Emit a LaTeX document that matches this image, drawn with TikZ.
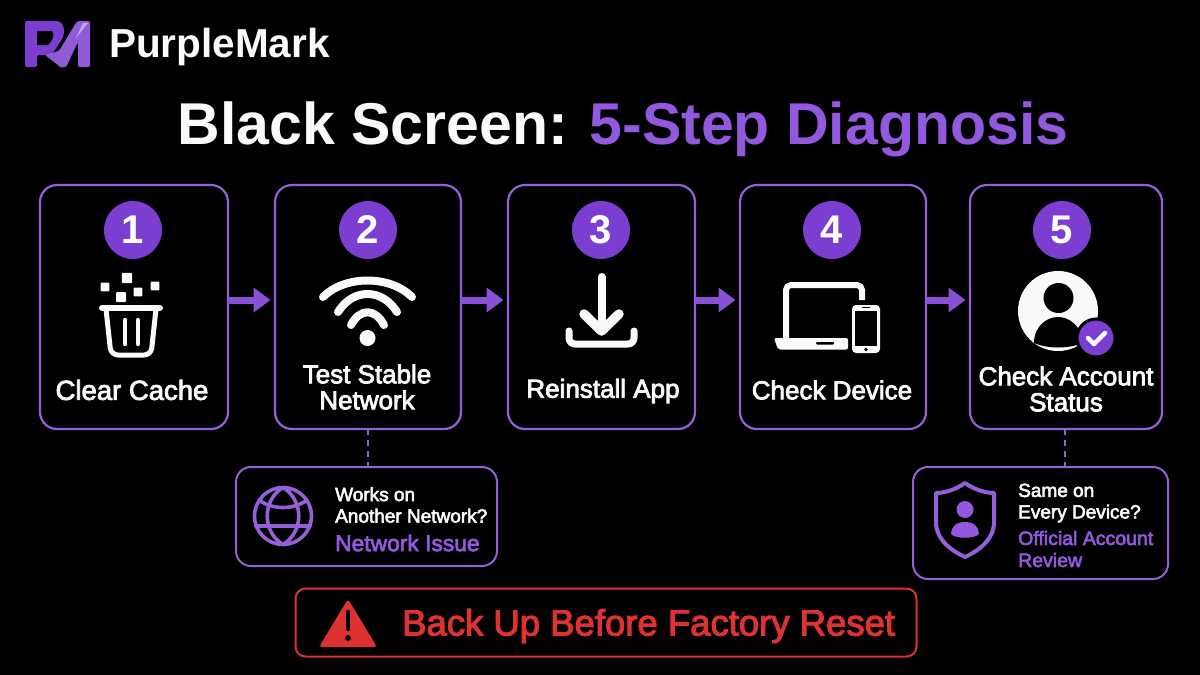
\documentclass[tikz,border=0pt]{standalone}
\usepackage{fontspec}
\setmainfont{Liberation Sans}
\newfontfamily\semifont[FakeBold=3]{Liberation Sans}
\usetikzlibrary{
    arrows.meta,
    positioning,
    calc
}
\definecolor{markpurple}{RGB}{124,62,208}
\definecolor{markline}{RGB}{148,96,216}
\definecolor{marktext}{RGB}{146,88,222}
\definecolor{markred}{RGB}{222,50,50}
\definecolor{markwhite}{RGB}{250,250,250}

\begin{document}
\begin{tikzpicture}[
    x=1pt,
    y=-1pt,
    stepbox/.style={
        draw=markline,
        line width=2.2pt,
        outer sep=0pt,
        rounded corners=17pt,
        minimum height=244pt,
        minimum width=187pt
    },
    checkbox/.style={
        draw=markline,
        line width=2pt,
        outer sep=0pt,
        rounded corners=15pt
    },
    badge/.style={
        circle,
        fill=markpurple,
        text=white,
        minimum size=58pt,
        inner sep=0pt,
        font=\fontsize{40}{40}\selectfont\bfseries
    },
    steplabel/.style={
        text=markwhite,
        align=center,
        inner sep=0pt,
        font=\fontsize{26}{26}\selectfont\semifont
    },
    asktext/.style={
        text=markwhite,
        align=left,
        anchor=west,
        inner sep=0pt,
        font=\fontsize{19}{21.5}\selectfont\semifont
    },
    answertext/.style={
        text=marktext,
        align=left,
        anchor=west,
        inner sep=0pt,
        font=\fontsize{22.8}{22}\selectfont\semifont
    },
    flowarrow/.style={
        -{Triangle[length=17pt,width=24pt]},
        line width=7pt,
        draw=markpurple!90!white,
        shorten >=4.5pt
    },
    dashline/.style={
        draw=markline,
        line width=2pt,
        dash pattern=on 6pt off 5pt
    },
    iconline/.style={
        draw=markwhite,
        line width=8pt,
        line cap=round,
        line join=round
    },
    sideline/.style={
        draw=markline,
        line width=3.6pt,
        line cap=round,
        line join=round
    }
]

\fill[black] (0,0) rectangle (1200,675);
\useasboundingbox (0,0) rectangle (1200,675);

% logo
\fill[markpurple, rounded corners=2pt] (25,21) -- (54,21) .. controls (65,21) and (66,34) .. (60,42) -- (55,50) .. controls (52,54) and (48,55) .. (44,55) -- (37,55) -- (37,67) -- (25,67) -- cycle;
\fill[black] (37,31) -- (52,31) .. controls (55,33) and (53,41) .. (48,45) -- (37,45) -- cycle;
\fill[markpurple!85!white, rounded corners=2pt] (45,55) -- (59,51) -- (77,21) -- (90,21) -- (90,67) -- (78,67) -- (78,42) -- (68,63) .. controls (66,68) and (61,68) .. (58,65) -- cycle;
\fill[markpurple!45!white] (83,23) -- (88,23) -- (76,38) -- cycle;
\node[anchor=west, inner sep=0pt, text=markwhite, font=\fontsize{40.5}{40}\selectfont\bfseries] (brand) at (109,47) {PurpleMark};

\node[inner sep=0pt, font=\fontsize{59}{60}\selectfont\bfseries] (title) at (623,129) {\textcolor{markwhite}{Black Screen:} \textcolor{marktext}{5-Step Diagnosis}};

\node[stepbox, minimum width=188pt] (cache) at (134,307) {};
\node[stepbox, minimum width=186pt, right=47pt of cache] (network) {};
\node[stepbox, right=47pt of network] (reinstall) {};
\node[stepbox, minimum width=186pt, right=45pt of reinstall] (device) {};
\node[stepbox, minimum width=192pt, right=44pt of device] (account) {};

\node[badge] (num1) at (133,230) {1};
\node[badge] (num2) at (368,230) {2};
\node[badge] (num3) at (601,230) {3};
\node[badge] (num4) at (832,230) {4};
\node[badge] (num5) at (1062,230) {5};

\node[steplabel, font=\fontsize{27.5}{26}\selectfont\semifont] (label1) at (132,390) {Clear Cache};
\node[steplabel] (label2) at (367,387) {Test Stable\\Network};
\node[steplabel] (label3) at (603,391) {Reinstall App};
\node[steplabel] (label4) at (832,390) {Check Device};
\node[steplabel] (label5) at (1066,389) {Check Account\\Status};

\draw[flowarrow] ([yshift=7pt]cache.east) -- ([yshift=7pt]network.west);
\draw[flowarrow] ([yshift=7pt]network.east) -- ([yshift=7pt]reinstall.west);
\draw[flowarrow] ([yshift=7pt]reinstall.east) -- ([yshift=7pt]device.west);
\draw[flowarrow] ([yshift=7pt]device.east) -- ([yshift=7pt]account.west);

% trash
\foreach \a/\b/\s in {127/278/5.2, 105/287/4.4, 155/286/4.4, 138/292/4.4, 121/297/5}
    \fill[markwhite, rounded corners=1pt] (\a-\s,\b-\s) rectangle (\a+\s,\b+\s);
\draw[markwhite, line width=6pt, line cap=round] (102,308) -- (160,308);
\draw[markwhite, line width=5pt, line join=round, rounded corners=7pt] (106,309) -- (111,355) -- (151,355) -- (156,309);
\draw[markwhite, line width=4.4pt, line cap=round] (125,320) -- (125,344) (138,320) -- (138,344);

% wifi
\draw[iconline] (323,297) .. controls (345,275) and (390,275) .. (412,297);
\draw[iconline] (338,312) .. controls (353,288) and (382,288) .. (397,312);
\draw[iconline] (351,325) .. controls (360,308) and (375,308) .. (384,325);
\fill[markwhite] (367.5,338) circle (8pt);

% download
\draw[iconline] (601.5,277) -- (601.5,330);
\draw[iconline, line width=9.5pt] (584,314) -- (601.5,331) -- (619,314);
\draw[iconline, line width=7pt, rounded corners=6pt] (569,331) -- (569,344) -- (634,344) -- (634,331);

% laptop and phone
\draw[markwhite, line width=6pt, rounded corners=5pt] (786,340) -- (786,285) -- (862,285) -- (862,300);
\fill[markwhite, rounded corners=2pt] (774,338) -- (848,338) -- (848,349.5) -- (778,349.5) -- cycle;
\fill[black, rounded corners=1pt] (816,342) rectangle (834,344.5);
\fill[markwhite, rounded corners=4pt] (852,305) rectangle (880,353);
\fill[black] (855,310.5) rectangle (877,346);
\fill[black] (866,349.5) circle (1.8pt);
\draw[black, line width=1.2pt] (862,307.7) -- (870,307.7);

% user
\fill[markwhite] (1058,311) circle (40pt);
\fill[black] (1058.5,298) circle (15pt);
\fill[black] (1034,343) .. controls (1034,327) and (1046,317) .. (1058,317) .. controls (1070,317) and (1082,327) .. (1083,343) .. controls (1068,349) and (1048,349) .. (1034,343) -- cycle;
\draw[black, line width=3pt, fill=markpurple] (1096,338) circle (19pt);
\draw[markwhite, line width=4.5pt, line cap=round, line join=round] (1088,338) -- (1094,344) -- (1105,333);

\node[checkbox, minimum width=261pt, minimum height=99pt] (check1) at (366.5,516.5) {};
\node[checkbox, minimum width=255pt, minimum height=112pt] (check2) at (1040.5,523) {};

\draw[dashline] (network.south) -- (network.south |- check1.north);
\draw[dashline] ($(account.south)+(-1,0)$) -- ($(account.south |- check2.north)+(-1,0)$);

% globe
\draw[sideline] (283,516) circle (28.5pt);
\draw[sideline] (283,487.5) .. controls (262,500) and (262,532) .. (283,544.5) .. controls (304,532) and (304,500) .. (283,487.5) -- cycle;
\draw[sideline] (259,500) .. controls (272,510) and (294,510) .. (307,500);
\draw[sideline] (256,526) -- (310,526);

\node[asktext] (ask1) at (335,505) {Works on\\Another Network?};
\node[answertext] (answer1) at (335,543) {Network Issue};

% shield
\draw[sideline, line width=4pt] (965,483) .. controls (975,490) and (986,493) .. (994,493) -- (994,522) .. controls (994,540) and (978,551) .. (965,557) .. controls (952,551) and (936,540) .. (936,522) -- (936,493) .. controls (944,493) and (955,490) .. (965,483) -- cycle;
\fill[marktext] (965,509.5) circle (8.5pt);
\fill[marktext] (951,534) .. controls (951,527) and (956,522) .. (965,522) .. controls (974,522) and (979,527) .. (979,534) .. controls (975,539) and (955,539) .. (951,534) -- cycle;

\node[asktext] (ask2) at (1018,503) {Same on\\Every Device?};
\node[answertext, font=\fontsize{19.5}{22}\selectfont\semifont] (answer2) at (1018,549) {Official Account\\Review};

\node[draw=markred, line width=2pt, outer sep=0pt, rounded corners=10pt, minimum width=621pt, minimum height=68pt] (warning) at (606,622.5) {};
\fill[markred, rounded corners=3pt] (348,599) -- (377,647) -- (319,647) -- cycle;
\draw[black, line width=4.5pt, line cap=round] (348,612) -- (348,629);
\fill[black] (348,638) circle (3pt);
\node[anchor=west, inner sep=0pt, text=markred, font=\fontsize{36.5}{36}\selectfont\semifont] (warntext) at (402,626) {Back Up Before Factory Reset};

\end{tikzpicture}
\end{document}
